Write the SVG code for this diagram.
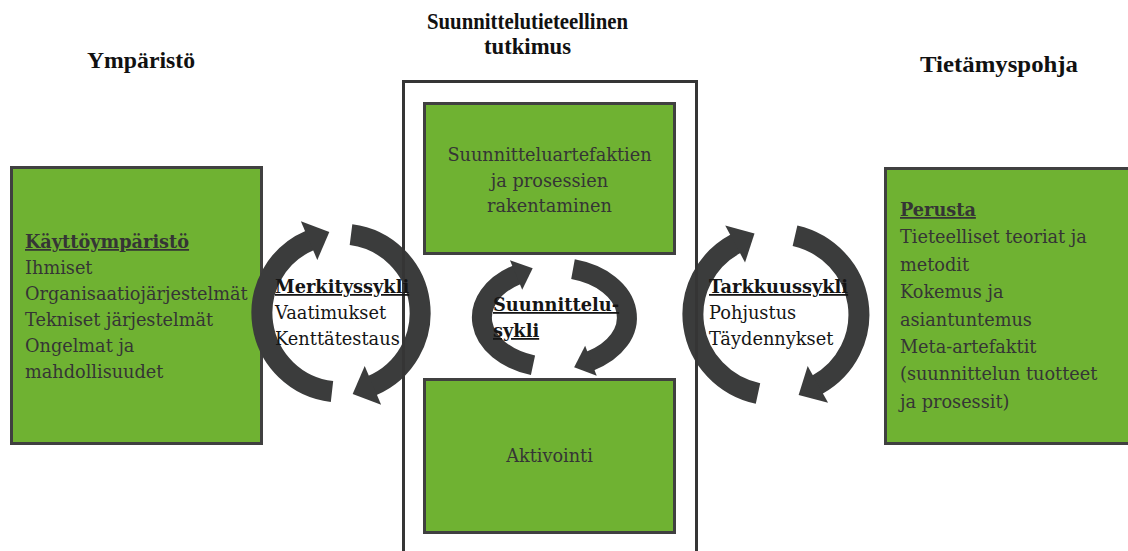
<svg xmlns="http://www.w3.org/2000/svg" width="1128" height="551" viewBox="0 0 1128 551">
  <style>
    .box { fill: #6fb232; stroke: #404040; stroke-width: 3; }
    .frame { fill: none; stroke: #353535; stroke-width: 3; }
    .head { font-family: "Liberation Serif", serif; font-weight: bold; font-size: 22.5px; fill: #111; }
    .body { font-family: "DejaVu Serif", serif; font-size: 17.7px; fill: #353535; }
    .lbl { font-family: "DejaVu Serif", serif; font-size: 17.8px; fill: #151515; }
    .u { font-weight: bold; text-decoration: underline; }
    .cyc { fill: none; stroke: #3b3c3c; stroke-width: 21; }
    .cyc-s { fill: none; stroke: #3b3c3c; stroke-width: 20; }
  </style>
  <defs>
    <marker id="ah" markerUnits="userSpaceOnUse" markerWidth="50" markerHeight="50" refX="1" refY="0" viewBox="0 -25 30 50" orient="auto" overflow="visible">
      <path d="M0,-21 L22,0 L0,21 Z" fill="#3b3c3c"/>
    </marker>
    <marker id="ah-s" markerUnits="userSpaceOnUse" markerWidth="40" markerHeight="40" refX="1" refY="0" viewBox="0 -20 25 40" orient="auto" overflow="visible">
      <path d="M0,-16 L18,0 L0,16 Z" fill="#3b3c3c"/>
    </marker>
  </defs>

  <rect width="1128" height="551" fill="#ffffff"/>

  <!-- column headings -->
  <g id="heading-environment">
    <text class="head" x="141" y="68" text-anchor="middle" textLength="108" lengthAdjust="spacingAndGlyphs">Ympäristö</text>
  </g>
  <g id="heading-research">
    <text class="head" x="527.5" y="29" text-anchor="middle" textLength="201" lengthAdjust="spacingAndGlyphs">Suunnittelutieteellinen</text>
    <text class="head" x="527.5" y="54" text-anchor="middle" textLength="87" lengthAdjust="spacingAndGlyphs">tutkimus</text>
  </g>
  <g id="heading-knowledge">
    <text class="head" x="999" y="72" text-anchor="middle" textLength="158" lengthAdjust="spacingAndGlyphs">Tietämyspohja</text>
  </g>

  <!-- side boxes -->
  <g id="environment">
    <rect class="box" x="11.5" y="167.5" width="250" height="276"/>
    <text class="body" x="25" y="248"><tspan class="u">Käyttöympäristö</tspan></text>
    <text class="body" x="25" y="274">Ihmiset</text>
    <text class="body" x="25" y="300">Organisaatiojärjestelmät</text>
    <text class="body" x="25" y="326">Tekniset järjestelmät</text>
    <text class="body" x="25" y="352">Ongelmat ja</text>
    <text class="body" x="25" y="378">mahdollisuudet</text>
  </g>
  <g id="knowledge-base">
    <rect class="box" x="885.5" y="168.5" width="260" height="275"/>
    <text class="body" x="900" y="216"><tspan class="u">Perusta</tspan></text>
    <text class="body" x="900" y="243.4">Tieteelliset teoriat ja</text>
    <text class="body" x="900" y="270.8">metodit</text>
    <text class="body" x="900" y="298.2">Kokemus ja</text>
    <text class="body" x="900" y="325.6">asiantuntemus</text>
    <text class="body" x="900" y="353">Meta-artefaktit</text>
    <text class="body" x="900" y="380.4">(suunnittelun tuotteet</text>
    <text class="body" x="900" y="407.8">ja prosessit)</text>
  </g>

  <!-- cycle arrows -->
  <g id="connectors">
    <g id="relevance-cycle">
      <path class="cyc" d="M332,391.5 A79,79 0 0 1 310,240.3" marker-end="url(#ah)"/>
      <path class="cyc" d="M351,234.6 A79,79 0 0 1 372,385.7" marker-end="url(#ah)"/>
    </g>
    <g id="rigor-cycle">
      <path class="cyc" d="M758,393.6 A83,81 0 0 1 736,243.5" marker-end="url(#ah)"/>
      <path class="cyc" d="M795,235.7 A83,81 0 0 1 817,384.9" marker-end="url(#ah)"/>
    </g>
    <g id="design-cycle">
      <path class="cyc-s" d="M533,365.3 A72.5,50 0 0 1 517,274.7" marker-end="url(#ah-s)"/>
      <path class="cyc-s" d="M573,269.2 A72.5,50 0 0 1 590,361.1" marker-end="url(#ah-s)"/>
    </g>
  </g>

  <!-- design science research frame and its boxes -->
  <g id="build">
    <rect class="box" x="424.5" y="103.5" width="250" height="150"/>
    <text class="body" x="549.5" y="161" text-anchor="middle">Suunnitteluartefaktien</text>
    <text class="body" x="549.5" y="186.5" text-anchor="middle">ja prosessien</text>
    <text class="body" x="549.5" y="212" text-anchor="middle">rakentaminen</text>
  </g>
  <g id="evaluate">
    <rect class="box" x="424.5" y="379.5" width="250" height="153"/>
    <text class="body" x="549.5" y="462" text-anchor="middle">Aktivointi</text>
  </g>
  <g id="research-frame">
    <rect class="frame" x="403.5" y="81.5" width="293" height="480"/>
  </g>

  <!-- cycle labels -->
  <g id="relevance-label">
    <text class="lbl" x="275" y="293"><tspan class="u">Merkityssykli</tspan></text>
    <text class="lbl" x="275" y="319">Vaatimukset</text>
    <text class="lbl" x="275" y="345">Kenttätestaus</text>
  </g>
  <g id="design-label">
    <text class="lbl" x="493" y="311"><tspan class="u">Suunnittelu-</tspan></text>
    <text class="lbl" x="493" y="337"><tspan class="u">sykli</tspan></text>
  </g>
  <g id="rigor-label">
    <text class="lbl" x="709" y="293"><tspan class="u">Tarkkuussykli</tspan></text>
    <text class="lbl" x="709" y="319">Pohjustus</text>
    <text class="lbl" x="709" y="345">Täydennykset</text>
  </g>
</svg>
